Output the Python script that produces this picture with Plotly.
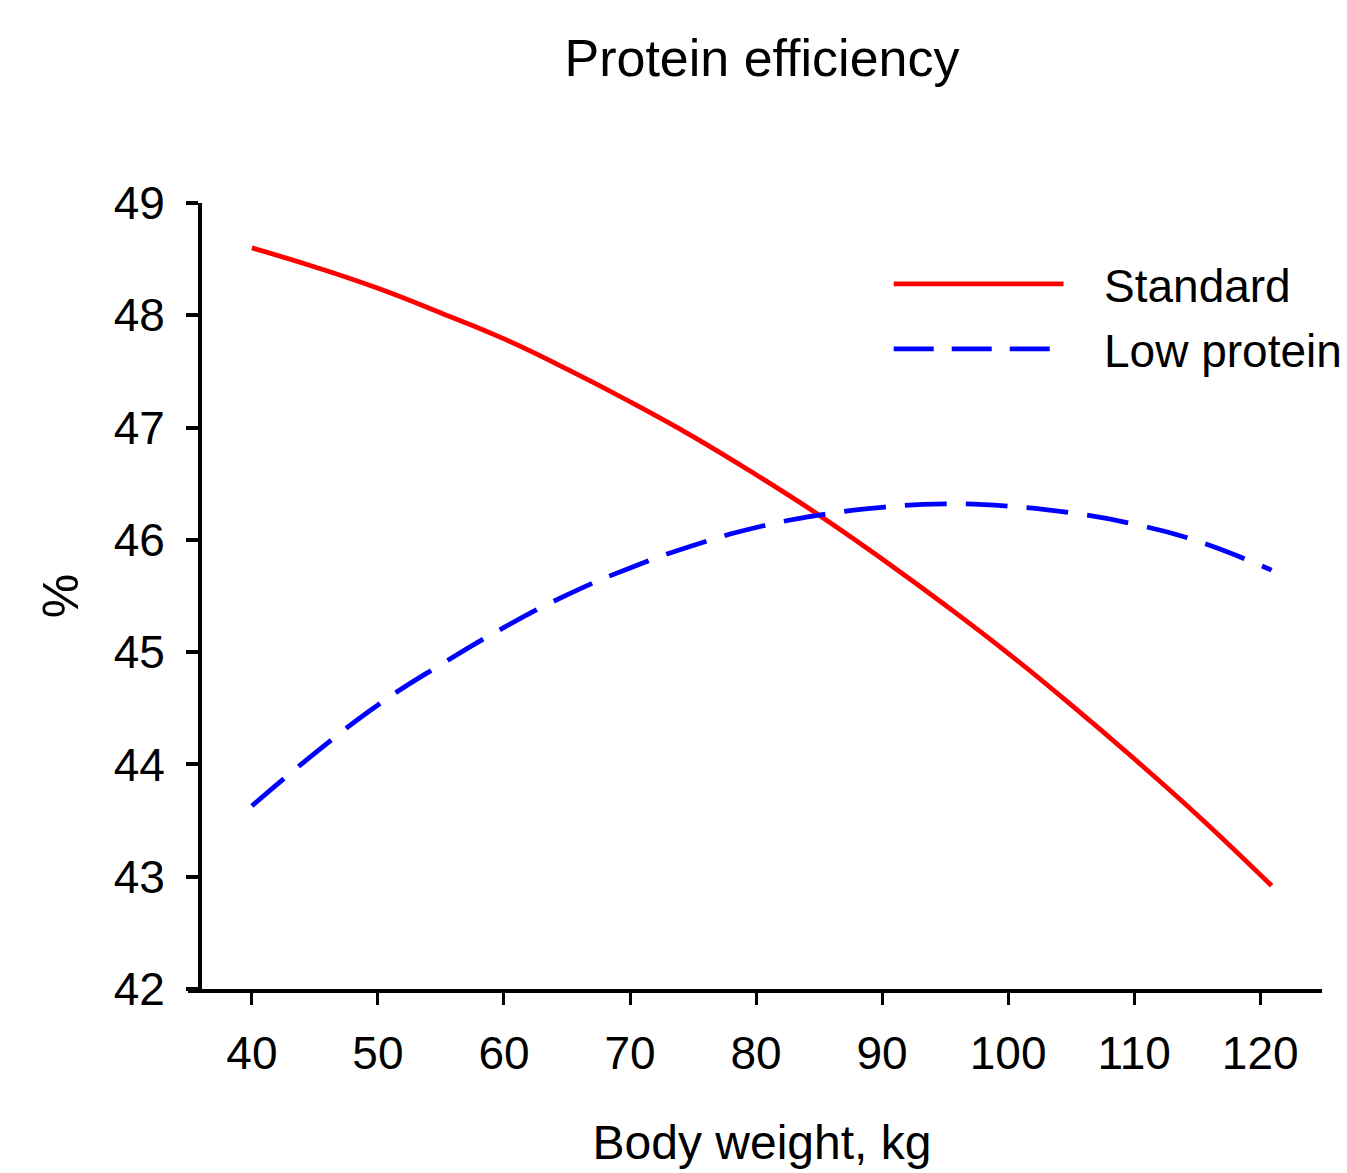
import plotly.graph_objects as go

# Data
body_weight_std = [40, 45, 50, 55, 60, 65, 70, 75, 80, 85, 90, 95, 100, 105, 110, 115, 120.9]
standard = [48.60, 48.43, 48.24, 48.02, 47.79, 47.52, 47.23, 46.92, 46.58, 46.22,
            45.83, 45.42, 44.99, 44.53, 44.05, 43.55, 42.92]

body_weight_low = [40, 45, 50, 55, 60, 65, 70, 75, 80, 85, 90, 95, 100, 105, 110, 115, 120.9]
low_protein = [43.63, 44.10, 44.53, 44.89, 45.22, 45.51, 45.75, 45.95, 46.11, 46.22,
               46.29, 46.32, 46.30, 46.24, 46.14, 45.99, 45.73]

x_ticks = [40, 50, 60, 70, 80, 90, 100, 110, 120]
y_ticks = [42, 43, 44, 45, 46, 47, 48, 49]

FONT = "Liberation Sans, Arial, sans-serif"

fig = go.Figure()
fig.add_trace(go.Scatter(x=body_weight_std, y=standard, mode="lines", name="Standard",
                         line=dict(color="#ff0000", width=4.8, shape="spline", smoothing=1.3),
                         showlegend=False))
fig.add_trace(go.Scatter(x=body_weight_low, y=low_protein, mode="lines", name="Low protein",
                         line=dict(color="#0000ff", width=4.8, dash="42px,19px", shape="spline",
                                   smoothing=1.3),
                         showlegend=False))

# Manual legend (long line samples like the reference)
legend_items = [("Standard", "#ff0000", "solid", 0.8971, 0.7692),
                ("Low protein", "#0000ff", "40px,18px", 0.8145, 0.7585)]
for name, color, dash, yy, x1 in legend_items:
    fig.add_shape(type="line", xref="paper", yref="paper", x0=0.6176, x1=x1, y0=yy, y1=yy,
                  line=dict(color=color, width=4.8, dash=dash))
    fig.add_annotation(xref="paper", yref="paper", x=0.8035, y=yy - 0.003, text=name, showarrow=False,
                       xanchor="left", yanchor="middle", font=dict(family=FONT, size=46, color="black"))

# small extension of the x-axis line to the left of the y-axis, as in the reference
fig.add_shape(type="line", xref="paper", yref="paper", x0=-14 / 1120, x1=0, y0=-2 / 787, y1=-2 / 787,
              line=dict(color="black", width=4))

fig.update_layout(
    width=1347, height=1173,
    margin=dict(l=202, r=25, t=203, b=184),
    paper_bgcolor="white", plot_bgcolor="white",
    font=dict(family=FONT, color="black"),
    title=dict(text="Protein efficiency", x=0.5, xref="paper", xanchor="center",
               y=1 - 58 / 1173, yref="container", yanchor="middle",
               font=dict(family=FONT, size=52, color="black")),
)
fig.update_xaxes(
    range=[36.04, 124.9], tickvals=x_ticks, ticktext=[str(v) for v in x_ticks],
    showline=True, linecolor="black", linewidth=4, mirror=False,
    ticks="outside", ticklen=12, tickwidth=3, tickcolor="black",
    showgrid=False, zeroline=False,
    tickfont=dict(family=FONT, size=46), ticklabelstandoff=9,
    title=dict(text="Body weight, kg", font=dict(family=FONT, size=48), standoff=48),
)
fig.update_yaxes(
    range=[42, 49], tickvals=y_ticks, ticktext=[str(v) for v in y_ticks],
    showline=True, linecolor="black", linewidth=4, mirror=False,
    ticks="outside", ticklen=12, tickwidth=4, tickcolor="black",
    showgrid=False, zeroline=False,
    tickfont=dict(family=FONT, size=46), ticklabelstandoff=12,
    title=dict(text="%", font=dict(family=FONT, size=50), standoff=20),
)

fig.write_html("out.html")
